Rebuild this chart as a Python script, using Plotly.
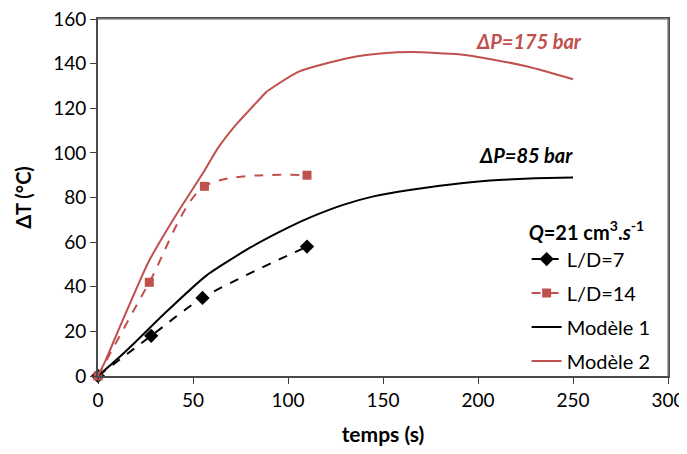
import plotly.graph_objects as go

# Experimental data
t_ld7 = [0, 28, 55, 110]
dT_ld7 = [0, 18, 35, 58]
t_ld14 = [0, 27, 56, 110]
dT_ld14 = [0, 42, 85, 90]

# Model 1 curve
t_m1 = [0, 10, 20, 35, 57, 80, 100, 112, 129, 145, 164, 190, 213, 230, 250]
dT_m1 = [0, 7.5, 15.5, 28, 45, 57.5, 66.5, 71.2, 76.7, 80.5, 83.4, 86.3, 87.9, 88.6, 89]

# Model 2 curve (two branches meeting at the kink near t = 88 s)
t_m2a = [0, 4, 12.5, 26.5, 41, 56, 63, 72, 88.8]
dT_m2a = [0, 7, 24, 51, 72, 92, 102, 112, 127.5]
t_m2b = [88.8, 106, 132, 150, 165, 190, 200, 226, 250]
dT_m2b = [127.5, 136.5, 142.5, 144.6, 145.2, 144.2, 143, 138.7, 133]

RED = "#C0504D"
FONT = "Lato"

fig = go.Figure()
fig.add_trace(go.Scatter(x=t_ld7, y=dT_ld7, name="L/D=7", mode="lines+markers",
                         line=dict(color="black", width=2, dash="dash", shape="spline", smoothing=0.8),
                         marker=dict(symbol="diamond", size=11, color="black"),
                         cliponaxis=False, legendgroup="a"))
fig.add_trace(go.Scatter(x=t_ld14, y=dT_ld14, name="L/D=14", mode="lines+markers",
                         line=dict(color=RED, width=2, dash="dash", shape="spline", smoothing=0.8),
                         marker=dict(symbol="square", size=9, color=RED),
                         cliponaxis=False, legendgroup="b"))
fig.add_trace(go.Scatter(x=t_m1, y=dT_m1, name="Modèle 1", mode="lines",
                         line=dict(color="black", width=2, shape="spline", smoothing=0.5),
                         legendgroup="c"))
fig.add_trace(go.Scatter(x=t_m2a, y=dT_m2a, name="Modèle 2", mode="lines",
                         line=dict(color=RED, width=2, shape="spline", smoothing=0.5),
                         legendgroup="d"))
fig.add_trace(go.Scatter(x=t_m2b, y=dT_m2b, name="Modèle 2", mode="lines",
                         line=dict(color=RED, width=2, shape="spline", smoothing=0.6),
                         legendgroup="d", showlegend=False))

fig.add_annotation(x=227, y=150, xref="x", yref="y", text="<b><i>ΔP=175 bar</i></b>",
                   showarrow=False, font=dict(color=RED, size=20, family=FONT), xanchor="center")
fig.add_annotation(x=225, y=99, xref="x", yref="y", text="<b><i>ΔP=85 bar</i></b>",
                   showarrow=False, font=dict(color="black", size=20, family=FONT), xanchor="center")

fig.add_shape(type="line", xref="paper", yref="paper", x0=0, y0=1, x1=1, y1=1,
              line=dict(color="#8a8a8a", width=1.5))
fig.add_shape(type="line", xref="paper", yref="paper", x0=1, y0=0, x1=1, y1=1,
              line=dict(color="#8a8a8a", width=1.5))

fig.update_layout(
    width=679, height=438,
    margin=dict(l=90, r=19, t=11, b=70),
    paper_bgcolor="white", plot_bgcolor="white",
    font=dict(family=FONT, size=19, color="black"),
    showlegend=True,
    legend=dict(
        title=dict(text="<b><i>Q</i>=21 cm<sup>3</sup>.<i>s</i><sup>-1</sup></b>", font=dict(size=20)),
        x=0.752, xanchor="left", y=0.455, yanchor="top",
        bgcolor="rgba(0,0,0,0)", font=dict(size=20, family=FONT),
        tracegroupgap=5, traceorder="grouped", itemwidth=30,
    ),
    xaxis=dict(range=[0, 300], dtick=50, showgrid=False, zeroline=False, automargin=False,
               showline=True, linecolor="#4a4a4a", linewidth=2, mirror=True,
               ticks="outside", ticklen=6, tickcolor="#404040",
               ticklabeloverflow="allow",
               title=dict(text="<b>temps (s)</b>", font=dict(size=21), standoff=18),
               tickfont=dict(size=19)),
    yaxis=dict(range=[0, 160], dtick=20, showgrid=False, zeroline=False, automargin=False,
               showline=True, linecolor="#4a4a4a", linewidth=2, mirror=True,
               ticks="outside", ticklen=6, tickcolor="#404040",
               ticklabeloverflow="allow",
               title=dict(text="<b>ΔT (°C)</b>", font=dict(size=20), standoff=16),
               tickfont=dict(size=19)),
)

fig.write_html("out.html")
